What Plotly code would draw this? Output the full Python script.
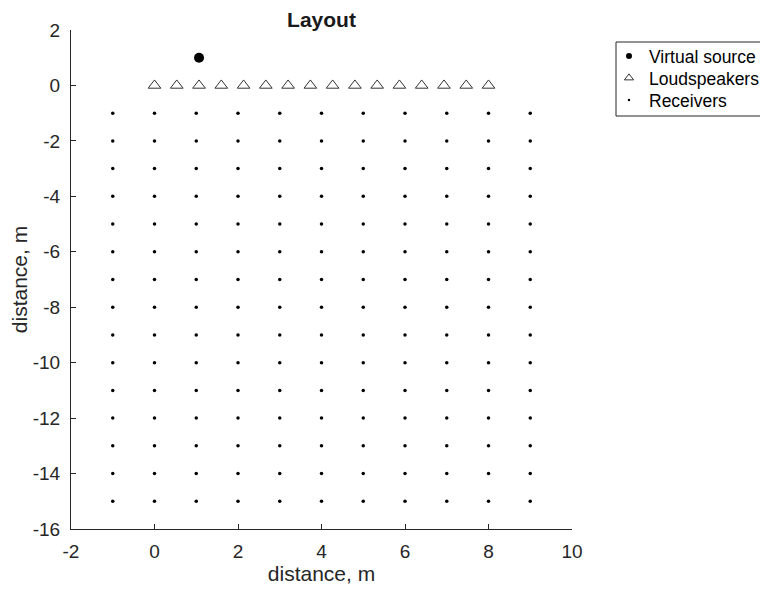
import plotly.graph_objects as go

# Data
source_x = [1.0667]
source_y = [1.0]
speaker_x = [0.0, 0.5333, 1.0667, 1.6, 2.1333, 2.6667, 3.2, 3.7333, 4.2667, 4.8,
             5.3333, 5.8667, 6.4, 6.9333, 7.4667, 8.0]
speaker_y = [0.0] * 16
recv_cols = [-1, 0, 1, 2, 3, 4, 5, 6, 7, 8, 9]
recv_rows = [-1, -2, -3, -4, -5, -6, -7, -8, -9, -10, -11, -12, -13, -14, -15]
recv_x = [c for r in recv_rows for c in recv_cols]
recv_y = [r for r in recv_rows for c in recv_cols]

x_ticks = [-2, 0, 2, 4, 6, 8, 10]
y_ticks = [-16, -14, -12, -10, -8, -6, -4, -2, 0, 2]

axc = "#262626"
font = "Liberation Sans, Arial, sans-serif"

# page has an 8px body margin: figure is drawn at offset (8, 8)
OFF = 8
W, H = 768 - OFF, 591 - OFF
PL, PR, PT, PB = 71 - OFF, 572 - OFF, 30 - OFF, 529 - OFF   # plot area in figure px
pw, ph = PR - PL, PB - PT


def px2paper_x(px):
    return (px - OFF - PL) / pw


def px2paper_y(py):
    return (PB - (py - OFF)) / ph


fig = go.Figure()
fig.add_trace(go.Scatter(x=source_x, y=source_y, mode="markers", showlegend=False,
                         marker=dict(symbol="circle", size=10, color="black")))
fig.add_trace(go.Scatter(x=speaker_x, y=speaker_y, mode="markers", showlegend=False,
                         marker=dict(symbol="triangle-up-open", size=11, color="#333333",
                                     line=dict(width=1, color="#333333"))))
fig.add_trace(go.Scatter(x=recv_x, y=recv_y, mode="markers", showlegend=False,
                         marker=dict(symbol="circle", size=3.5, color="black")))

legend_items = [
    ("Virtual source", dict(symbol="circle", size=6, color="black"), "legend", 56),
    ("Loudspeakers", dict(symbol="triangle-up-open", size=8, color="#333333",
                          line=dict(width=1, color="#333333")), "legend2", 78),
    ("Receivers", dict(symbol="circle", size=2.5, color="black"), "legend3", 100),
]
legend_layout = {}
for name, mk, lg, ypx in legend_items:
    fig.add_trace(go.Scatter(x=[None], y=[None], mode="markers", name=name, marker=mk, legend=lg))
    legend_layout[lg] = dict(x=px2paper_x(609), y=px2paper_y(ypx), xanchor="left", yanchor="middle",
                             bgcolor="rgba(0,0,0,0)", borderwidth=0,
                             font=dict(size=17.5, color="black", family=font),
                             itemsizing="trace", itemwidth=30)

# legend frame
fig.add_shape(type="rect", xref="paper", yref="paper",
              x0=px2paper_x(616), x1=px2paper_x(800), y0=px2paper_y(116), y1=px2paper_y(42),
              line=dict(color=axc, width=1), fillcolor="rgba(0,0,0,0)", layer="below")

axis_common = dict(showgrid=False, zeroline=False, showline=True, linecolor=axc, linewidth=1,
                   ticks="inside", ticklen=5, tickcolor=axc, mirror=False, automargin=False,
                   tickfont=dict(size=19, color=axc, family=font))
fig.update_layout(
    width=W, height=H,
    margin=dict(l=PL, r=W - PR, t=PT, b=H - PB, autoexpand=False),
    paper_bgcolor="white", plot_bgcolor="white",
    font=dict(family=font, color=axc),
    title=dict(text="<b>Layout</b>", x=((71 + 572) / 2 - OFF) / W, xanchor="center",
               y=1 - (20 - OFF) / H, yanchor="middle",
               font=dict(size=21, color="#1a1a1a", family=font)),
    xaxis=dict(range=[-2, 10], tickvals=x_ticks, ticktext=[str(v) for v in x_ticks],
               ticklabelstandoff=5,
               title=dict(text="distance, m", font=dict(size=21, color=axc), standoff=5),
               **axis_common),
    yaxis=dict(range=[-16, 2], tickvals=y_ticks, ticktext=[str(v) for v in y_ticks],
               ticklabelstandoff=6,
               title=dict(text="distance, m", font=dict(size=21, color=axc), standoff=4),
               **axis_common),
    showlegend=True,
    **legend_layout,
)

fig.write_html("out.html")
